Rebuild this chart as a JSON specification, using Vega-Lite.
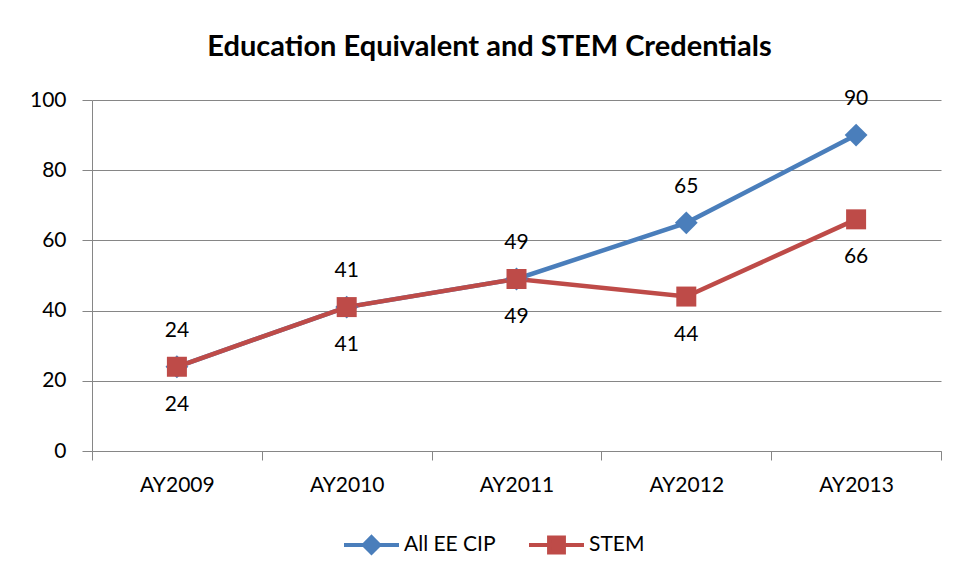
{
  "$schema": "https://vega.github.io/schema/vega-lite/v6.json",
  "autosize": "none",
  "width": 849,
  "height": 351,
  "padding": {"left": 92, "top": 100, "right": 18, "bottom": 128},
  "background": "white",
  "title": {
    "text": "Education Equivalent and STEM Credentials",
    "font": "Lato",
    "fontSize": 29,
    "fontWeight": "bold",
    "color": "#000000",
    "anchor": "middle",
    "dx": -27,
    "dy": 41,
    "offset": 38,
    "baseline": "bottom"
  },
  "data": {
    "values": [
      {"year": "AY2009", "series": "All EE CIP", "value": 24},
      {"year": "AY2010", "series": "All EE CIP", "value": 41},
      {"year": "AY2011", "series": "All EE CIP", "value": 49},
      {"year": "AY2012", "series": "All EE CIP", "value": 65},
      {"year": "AY2013", "series": "All EE CIP", "value": 90},
      {"year": "AY2009", "series": "STEM", "value": 24},
      {"year": "AY2010", "series": "STEM", "value": 41},
      {"year": "AY2011", "series": "STEM", "value": 49},
      {"year": "AY2012", "series": "STEM", "value": 44},
      {"year": "AY2013", "series": "STEM", "value": 66}
    ]
  },
  "encoding": {
    "x": {
      "field": "year",
      "type": "nominal",
      "scale": {"type": "band", "paddingInner": 0, "paddingOuter": 0},
      "axis": {
        "title": null,
        "labelAngle": 0,
        "labelFont": "Lato",
        "labelFontSize": 21,
        "labelColor": "#000000",
        "labelPadding": 14,
        "tickBand": "extent",
        "tickSize": 9,
        "tickColor": "#868686",
        "domainColor": "#868686",
        "grid": false
      }
    },
    "y": {
      "field": "value",
      "type": "quantitative",
      "scale": {"domain": [0, 100], "nice": false},
      "axis": {
        "title": null,
        "values": [0, 20, 40, 60, 80, 100],
        "labelFont": "Lato",
        "labelFontSize": 21,
        "labelColor": "#000000",
        "labelPadding": 16,
        "tickSize": 10,
        "tickColor": "#868686",
        "domainColor": "#868686",
        "gridColor": "#868686",
        "grid": true
      }
    }
  },
  "layer": [
    {
      "mark": {"type": "line", "strokeWidth": 4.5},
      "encoding": {
        "color": {
          "field": "series",
          "type": "nominal",
          "scale": {"domain": ["All EE CIP", "STEM"], "range": ["#4a7ebb", "#be4b48"]},
          "legend": {
            "title": null,
            "orient": "none",
            "direction": "horizontal",
            "legendX": 250,
            "legendY": 415,
            "labelFont": "Lato",
            "labelFontSize": 21,
            "labelColor": "#000000",
            "labelOffset": 3,
            "columnPadding": 25,
            "symbolSize": 3025,
            "symbolStrokeWidth": 4,
            "encode": {
              "symbols": {
                "update": {
                  "shape": {"signal": "datum.value === 'STEM' ? 'M-1,0H1M-0.27,-0.27H0.27V0.27H-0.27Z' : 'M-1,0H1M0,-0.28L0.28,0L0,0.28L-0.28,0Z'"},
                  "fill": {"signal": "datum.value === 'STEM' ? '#be4b48' : '#4a7ebb'"},
                  "stroke": {"signal": "datum.value === 'STEM' ? '#be4b48' : '#4a7ebb'"},
                  "strokeWidth": {"value": 4},
                  "opacity": {"value": 1},
                  "fillOpacity": {"value": 1}
                }
              }
            }
          }
        }
      }
    },
    {
      "transform": [{"filter": "datum.series === 'All EE CIP'"}],
      "mark": {"type": "point", "shape": "diamond", "filled": true, "opacity": 1, "size": 520, "color": "#4a7ebb"}
    },
    {
      "transform": [{"filter": "datum.series === 'STEM'"}],
      "mark": {"type": "point", "shape": "square", "filled": true, "opacity": 1, "size": 400, "color": "#be4b48"}
    },
    {
      "transform": [{"filter": "datum.series === 'All EE CIP'"}],
      "mark": {"type": "text", "dy": -36, "font": "Lato", "fontSize": 21, "color": "#000000"},
      "encoding": {"text": {"field": "value", "type": "quantitative"}}
    },
    {
      "transform": [{"filter": "datum.series === 'STEM'"}],
      "mark": {"type": "text", "dy": 38, "font": "Lato", "fontSize": 21, "color": "#000000"},
      "encoding": {"text": {"field": "value", "type": "quantitative"}}
    }
  ],
  "config": {"view": {"stroke": null}}
}
